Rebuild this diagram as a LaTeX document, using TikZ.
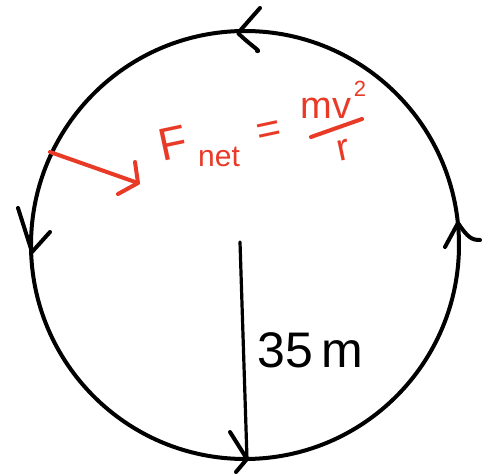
\documentclass[tikz,border=0pt]{standalone}
\usepackage{fontspec}
\usepackage{graphicx}
\setmainfont{Liberation Sans}
\begin{document}
\begin{tikzpicture}[x=1pt,y=-1pt,
  ink/.style={line width=4pt,line cap=round,line join=round},
  redink/.style={ink,draw=fred},
  eqtext/.style={text=fred,inner sep=0pt},
  ]
\definecolor{fred}{RGB}{232,58,38}
\useasboundingbox (0,0) rectangle (483,476);
\coordinate (c) at (245,245);
\draw[ink] (c) circle[radius=214];
% direction chevrons on circle
\draw[ink] (260,8) -- (238,33) .. controls (250,45) and (262,52) .. (257,51);
\draw[ink] (18,208) -- (32,252) -- (50,232);
\draw[ink] (445,247) -- (458,223) .. controls (468,238) and (472,240) .. (480,240);
% radius
\coordinate (rtop) at (240,242);
\coordinate (rbot) at (247,459);
\draw[ink,line width=3.2pt] (rtop) -- (rbot);
\draw[ink] (230,432) -- (rbot) -- (236,472);
\node[anchor=west,inner sep=0pt,font=\fontsize{50}{54}\selectfont] (lab) at (257,350) {35\,m};
% net force arrow
\coordinate (fa) at (50,152);
\coordinate (fb) at (138,183);
\draw[redink] (fa) -- (fb);
\draw[redink] (135,162) -- (fb) -- (118,194);
% equation F_net = m v^2 / r
\node[eqtext,font=\fontsize{46}{48}\selectfont] (eqF) at (173,143) {\rotatebox{12}{F}};
\node[eqtext,font=\fontsize{30}{32}\selectfont] (eqnet) at (219,157) {net};
\node[eqtext,font=\fontsize{42}{44}\selectfont] (eqeq) at (269,133) {\rotatebox{12}{=}};
\node[eqtext,font=\fontsize{38}{40}\selectfont] (eqmv) at (326,108) {mv};
\node[eqtext,font=\fontsize{22}{24}\selectfont] (eqsq) at (360,89) {2};
\coordinate (bara) at (311,137);
\coordinate (barb) at (362,119);
\draw[redink] (bara) -- (barb);
\node[eqtext,font=\fontsize{38}{40}\selectfont] (eqr) at (344,150) {\rotatebox{12}{r}};
\end{tikzpicture}
\end{document}
